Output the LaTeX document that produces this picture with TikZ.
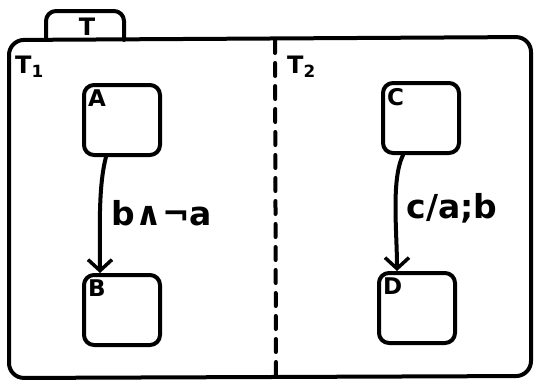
\documentclass[tikz,border=0pt]{standalone}
\usepackage{fontspec}
\setmainfont{DejaVu Sans}
\usetikzlibrary{arrows.meta}
\begin{document}
\begin{tikzpicture}[x=1pt,y=-1pt,
  ink/.style={line width=4pt,line cap=round,line join=round},
  statebox/.style={ink,draw,rounded corners=10pt,minimum width=76pt,minimum height=70pt,inner sep=0pt},
  boxlabel/.style={font=\bfseries\fontsize{23}{23}\selectfont,inner sep=0pt,anchor=north west},
  reglabel/.style={font=\bfseries\fontsize{24}{24}\selectfont,inner sep=0pt,anchor=north west},
  trlabel/.style={font=\bfseries\fontsize{33}{33}\selectfont,inner sep=0pt},
  arr/.style={ink,-{Straight Barb[length=11pt,width=24pt,line width=3.5pt]}}]
\useasboundingbox (0,0) rectangle (535,380);
% tab
\draw[ink,rounded corners=10pt] (46,40) -- (46,11) -- (124,11) -- (124,40);
\node[font=\bfseries\fontsize{24}{24}\selectfont] (tabT) at (87,27) {T};
% outer box
\draw[ink,rounded corners=15pt] (9,378) -- (9,40) -- (531,37) -- (531,376) -- cycle;
% divider
\draw[ink,dash pattern=on 13pt off 10pt] (275,40) -- (276,378);
% region labels
\node[reglabel] (T1) at (15,56) {T\textsubscript{1}};
\node[reglabel] (T2) at (287,56) {T\textsubscript{2}};
% states
\node[statebox] (A) at (122,120) {};
\node[statebox] (B) at (122,310) {};
\node[statebox] (C) at (421,118) {};
\node[statebox] (D) at (417,308) {};
\node[boxlabel] (Al) at ([shift={(6,7)}]A.north west) {A};
\node[boxlabel] (Bl) at ([shift={(6,7)}]B.north west) {B};
\node[boxlabel] (Cl) at ([shift={(6,7)}]C.north west) {C};
\node[boxlabel] (Dl) at ([shift={(6,7)}]D.north west) {D};
% transitions
\draw[arr] ([xshift=-16pt]A.south) .. controls +(-8,30) and +(0,-40) .. ([xshift=-22pt]B.north);
\draw[arr] ([xshift=-18pt]C.south) .. controls +(-12,25) and +(0,-40) .. ([xshift=-20pt]D.north);
\node[trlabel] (lab1) at (162,213) {b∧¬a};
\node[trlabel] (lab2) at (452,208) {c/a;b};
\end{tikzpicture}
\end{document}
